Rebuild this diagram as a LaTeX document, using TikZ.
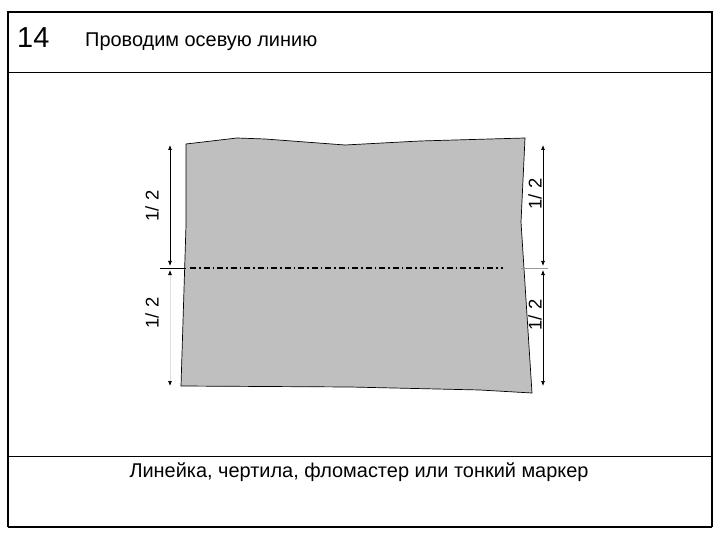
\documentclass[tikz,border=0pt]{standalone}
\usepackage{fontspec}
\setmainfont{Liberation Sans}
\usetikzlibrary{arrows.meta}
\begin{document}
\begin{tikzpicture}[x=1bp,y=-1bp,
  frame/.style={line width=1.5bp,black},
  sep/.style={line width=0.8bp,black},
  dimline/.style={line width=0.7bp,black,{Latex[length=5bp,width=4bp]}-{Latex[length=5bp,width=4bp]}},
  dimtick/.style={line width=0.5bp,black!40},
  axisline/.style={line width=1.6bp,black,dash pattern=on 6bp off 3bp on 1.5bp off 3bp},
  dimlabel/.style={font=\fontsize{18.5}{21}\selectfont,rotate=90,inner sep=1bp},
  sheet/.style={fill=black!25,draw=black,line width=0.7bp}]
\useasboundingbox (0,0) rectangle (720,540);
% frame
\coordinate (fTL) at (8,12);
\coordinate (fTR) at (712,12);
\coordinate (fBL) at (8,527);
\coordinate (fBR) at (712,527);
\draw[frame] (fBL) -- (fTL) -- (fTR) -- (fBR);
\draw[line width=2.5bp] (fBL) -- (fBR);
\coordinate (hL) at (8,72);
\coordinate (hR) at (712,72);
\draw[sep] (hL) -- (hR);
\coordinate (bL) at (8,456);
\coordinate (bR) at (712,456);
\draw[sep] (bL) -- (bR);
% header
\node[anchor=west,font=\fontsize{29}{31}\selectfont,inner sep=0] (num) at (17,38) {14};
\node[anchor=west,font=\fontsize{20}{23}\selectfont,inner sep=0] (title) at (85,42) {Проводим осевую линию};
% sheet
\draw[sheet] (186,144) -- (237,138) -- (265,139) -- (345,145) -- (420,141) -- (525,138)
  -- (521,222) -- (532,393) -- (480,390) -- (350,387) -- (181,386) -- (186,225) -- cycle;
% axis line
\coordinate (axL) at (190,268);
\coordinate (axR) at (503,268);
\draw[axisline] (axL) -- (axR);
% left dimensions
\coordinate (lT) at (170,145);
\coordinate (lM1) at (170,266);
\coordinate (lM2) at (170,270);
\coordinate (lB) at (170,386);
\draw[dimline] (lT) -- (lM1);
\draw[line width=0.7bp,black!12,{Latex[length=5bp,width=4bp,black]}-{Latex[length=5bp,width=4bp,black]}] (lM2) -- (lB);
\coordinate (lt1) at (160,268);
\coordinate (lt2) at (186,268);
\draw[line width=0.7bp,black] (lt1) -- (lt2);
\node[dimlabel] (l1) at (152,206) {1/ 2};
\node[dimlabel] (l2) at (152,313) {1/ 2};
% right dimensions
\coordinate (rT) at (543,145);
\coordinate (rM1) at (543,266);
\coordinate (rM2) at (543,270);
\coordinate (rB) at (543,386);
\draw[dimline] (rT) -- (rM1);
\draw[dimline] (rM2) -- (rB);
\coordinate (rt1) at (521,268);
\coordinate (rt2) at (548,268);
\draw[dimtick] (rt1) -- (rt2);
\node[dimlabel] (r1) at (535,194) {1/ 2};
\node[dimlabel] (r2) at (535,315) {1/ 2};
% footer
\node[font=\fontsize{20}{23}\selectfont,inner sep=0] (foot) at (359,472) {Линейка, чертила, фломастер или тонкий маркер};
\end{tikzpicture}
\end{document}
